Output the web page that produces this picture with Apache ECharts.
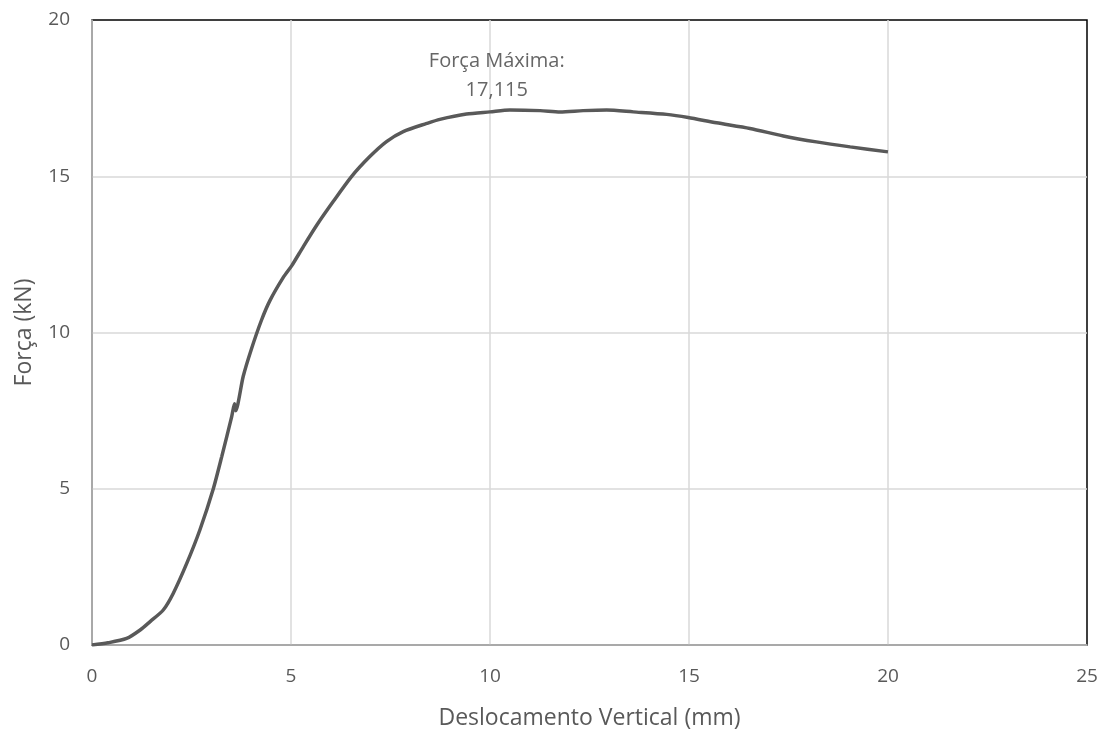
<!DOCTYPE html>
<html><head><meta charset="utf-8">
<script src="https://cdn.jsdelivr.net/npm/echarts@6/dist/echarts.min.js"></script>
<style>html,body{margin:0;padding:0;background:#fff}#c{width:1107px;height:731px}</style>
</head><body><div id="c"></div>
<script>
const xTitle = 'Deslocamento Vertical (mm)';
const yTitle = 'Força (kN)';
const dispX = [0,0.4,0.87,1.21,1.46,1.79,2.04,2.38,2.71,3.05,3.26,3.51,3.58,3.61,3.8,4.0,4.26,4.47,4.81,5.02,5.31,5.65,6.06,6.52,6.98,7.40,7.82,8.41,8.74,9.41,10.0,10.5,11.26,11.76,12.34,12.93,13.6,14.44,14.98,15.69,16.53,17.37,18.2,19.05,20.0];
const forceY = [0,0.07,0.21,0.48,0.75,1.12,1.65,2.61,3.68,5.01,6.03,7.31,7.72,7.5,8.6,9.45,10.4,11.02,11.77,12.14,12.75,13.44,14.19,14.99,15.63,16.11,16.43,16.69,16.82,16.99,17.06,17.12,17.1,17.06,17.1,17.12,17.06,16.98,16.88,16.71,16.53,16.29,16.1,15.94,15.78];
const maxLabelX = [10.17];
const maxLabelY = [17.115];
const maxLabelText = 'Força Máxima:\n17,115';

const curve = dispX.map((x,i)=>[x, forceY[i]]);
const font = '"Open Sans", "Noto Sans", sans-serif';
const chart = echarts.init(document.getElementById('c'), null, {renderer:'canvas'});
chart.setOption({
  animation:false,
  grid:{left:92,right:20,top:20,bottom:86,outerBoundsMode:'none',containLabel:false,show:true,borderColor:'#000',borderWidth:1.5,backgroundColor:'#fff'},
  xAxis:{type:'value',min:0,max:25,interval:5,
    name:xTitle,nameLocation:'middle',nameGap:62,
    nameTextStyle:{color:'#595959',fontSize:23,fontFamily:font},
    axisLine:{show:true,lineStyle:{color:'#a6a6a6',width:1.5}},
    axisTick:{show:false},
    axisLabel:{color:'#595959',fontSize:19,fontFamily:font,margin:22},
    splitLine:{show:true,showMaxLine:false,lineStyle:{color:'#d9d9d9',width:1.5}}},
  yAxis:{type:'value',min:0,max:20,interval:5,
    name:yTitle,nameLocation:'middle',nameGap:56,
    nameTextStyle:{color:'#595959',fontSize:23,fontFamily:font},
    axisLine:{show:true,lineStyle:{color:'#a6a6a6',width:1.5}},
    axisTick:{show:false},
    axisLabel:{color:'#595959',fontSize:19,fontFamily:font,margin:22},
    splitLine:{show:true,showMaxLine:false,lineStyle:{color:'#d9d9d9',width:1.5}}},
  series:[
    {type:'line',data:curve,showSymbol:false,smooth:0.25,
     lineStyle:{color:'#595959',width:3.5},z:5},
    {type:'scatter',data:maxLabelX.map((x,i)=>[x,maxLabelY[i]]),symbolSize:0,
     label:{show:true,position:'top',distance:5,formatter:maxLabelText,
       color:'#404040',fontSize:20,lineHeight:29,fontFamily:font,align:'center'},z:6}
  ]
});
</script></body></html>
